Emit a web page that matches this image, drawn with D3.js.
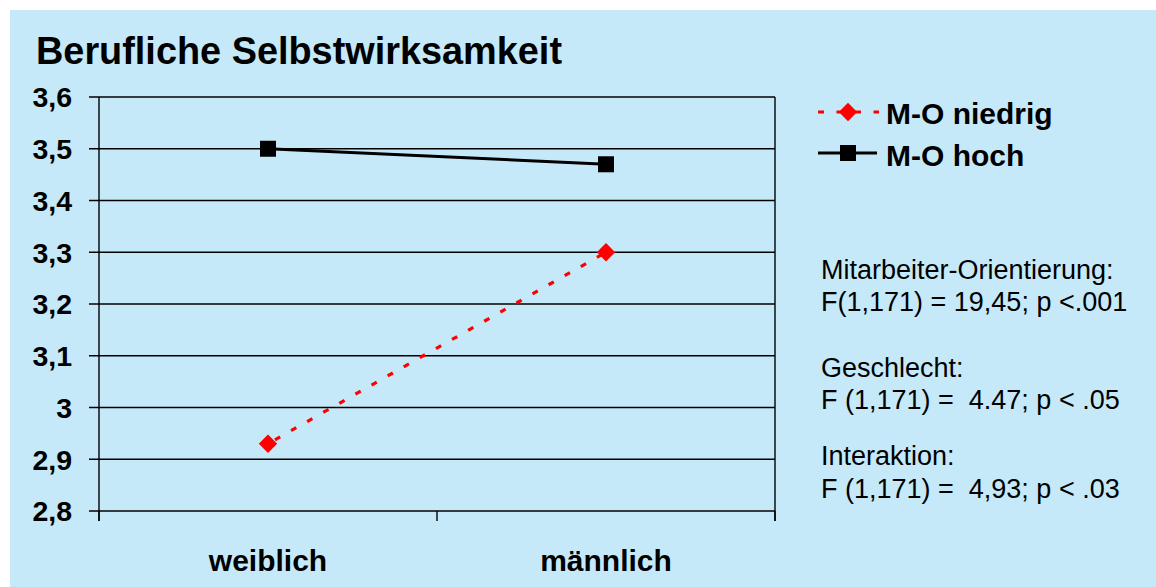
<!DOCTYPE html>
<html><head><meta charset="utf-8">
<script src="https://cdn.jsdelivr.net/npm/d3@7"></script>
<style>html,body{margin:0;padding:0;background:#fff;}svg{display:block;}text{white-space:pre;}</style>
</head><body>
<svg id="chart" width="1156" height="587"></svg>
<script>
const title = "Berufliche Selbstwirksamkeit";
const categories = ["weiblich", "männlich"];
const seriesNames = ["M-O niedrig", "M-O hoch"];
const valuesNiedrig = [2.93, 3.30];
const valuesHoch = [3.50, 3.47];
const yTicks = [2.8, 2.9, 3.0, 3.1, 3.2, 3.3, 3.4, 3.5, 3.6];
const yTickLabels = ["2,8", "2,9", "3", "3,1", "3,2", "3,3", "3,4", "3,5", "3,6"];
const notes = [
  ["Mitarbeiter-Orientierung:", "F(1,171) = 19,45; p <.001"],
  ["Geschlecht:", "F (1,171) =  4.47; p < .05"],
  ["Interaktion:", "F (1,171) =  4,93; p < .03"]
];

const svg = d3.select("#chart");
const font = "'Liberation Sans', Arial, sans-serif";
svg.append("rect").attr("x", 10).attr("y", 10).attr("width", 1146).attr("height", 577).attr("fill", "#c6e9f9");

svg.append("text").attr("x", 36).attr("y", 64).attr("font-family", font).attr("font-weight", "bold")
  .attr("font-size", 39).attr("textLength", 526).attr("lengthAdjust", "spacingAndGlyphs").text(title);

const L = 99, R = 775, T = 97, B = 511;
const x = d3.scaleBand().domain(categories).range([L, R]);
const y = d3.scaleLinear().domain([2.8, 3.6]).range([B, T]);

svg.append("g").selectAll("line").data(yTicks).join("line")
  .attr("x1", L - 10).attr("x2", R).attr("y1", d => y(d)).attr("y2", d => y(d))
  .attr("stroke", "#000").attr("stroke-width", 1.4);
svg.append("line").attr("x1", L).attr("x2", L).attr("y1", T).attr("y2", B + 10).attr("stroke", "#000").attr("stroke-width", 1.4);
svg.append("line").attr("x1", R).attr("x2", R).attr("y1", T).attr("y2", B + 10).attr("stroke", "#000").attr("stroke-width", 1.4);
const xEdges = [L, (L + R) / 2, R];
svg.append("g").selectAll("line").data(xEdges).join("line")
  .attr("x1", d => d).attr("x2", d => d).attr("y1", B).attr("y2", B + 10).attr("stroke", "#000").attr("stroke-width", 1.4);

svg.append("g").selectAll("text").data(yTicks).join("text")
  .attr("x", 72).attr("y", d => y(d)).attr("dy", "0.36em").attr("text-anchor", "end")
  .attr("font-family", font).attr("font-weight", "bold").attr("font-size", 28.5)
  .text((d, i) => yTickLabels[i]);

svg.append("g").selectAll("text").data(categories).join("text")
  .attr("x", d => x(d) + x.bandwidth() / 2).attr("y", 571).attr("text-anchor", "middle")
  .attr("font-family", font).attr("font-weight", "bold").attr("font-size", 30).text(d => d);

const cx = d => x(d) + x.bandwidth() / 2;
const lineGen = d3.line().x(d => cx(d.c)).y(d => y(d.v));
const dN = categories.map((c, i) => ({c, v: valuesNiedrig[i]}));
const dH = categories.map((c, i) => ({c, v: valuesHoch[i]}));

svg.append("path").datum(dH).attr("d", lineGen).attr("fill", "none").attr("stroke", "#000").attr("stroke-width", 3);
svg.append("path").datum(dN).attr("d", lineGen).attr("fill", "none").attr("stroke", "#ff0000").attr("stroke-width", 3.2)
  .attr("stroke-dasharray", "6,12.5").attr("stroke-dashoffset", -8);

const diamond = (g, px, py, s) => g.append("rect").attr("x", px - s / 2).attr("y", py - s / 2).attr("width", s).attr("height", s)
  .attr("fill", "#ff0000").attr("transform", `rotate(45,${px},${py})`);
const square = (g, px, py, s) => g.append("rect").attr("x", px - s / 2).attr("y", py - s / 2).attr("width", s).attr("height", s).attr("fill", "#000");

dH.forEach(d => square(svg, cx(d.c), y(d.v), 16));
dN.forEach(d => diamond(svg, cx(d.c), y(d.v), 13));

const lg = svg.append("g");
lg.append("line").attr("x1", 818).attr("x2", 879).attr("y1", 112).attr("y2", 112).attr("stroke", "#ff0000")
  .attr("stroke-width", 3.2).attr("stroke-dasharray", "6,12.5");
diamond(lg, 848, 112, 13);
lg.append("text").attr("x", 886).attr("y", 124).attr("font-family", font).attr("font-weight", "bold").attr("font-size", 30).text(seriesNames[0]);
lg.append("line").attr("x1", 818).attr("x2", 877).attr("y1", 153).attr("y2", 153).attr("stroke", "#000").attr("stroke-width", 3);
square(lg, 848, 153, 16);
lg.append("text").attr("x", 886).attr("y", 166).attr("font-family", font).attr("font-weight", "bold").attr("font-size", 30).text(seriesNames[1]);

const baselines = [[279, 311], [377, 409], [465, 498]];
notes.forEach((pair, i) => pair.forEach((t, j) => {
  svg.append("text").attr("x", 821).attr("y", baselines[i][j]).attr("font-family", font).attr("font-size", 27)
    .attr("fill", "#000").text(t);
}));
</script>
</body></html>
